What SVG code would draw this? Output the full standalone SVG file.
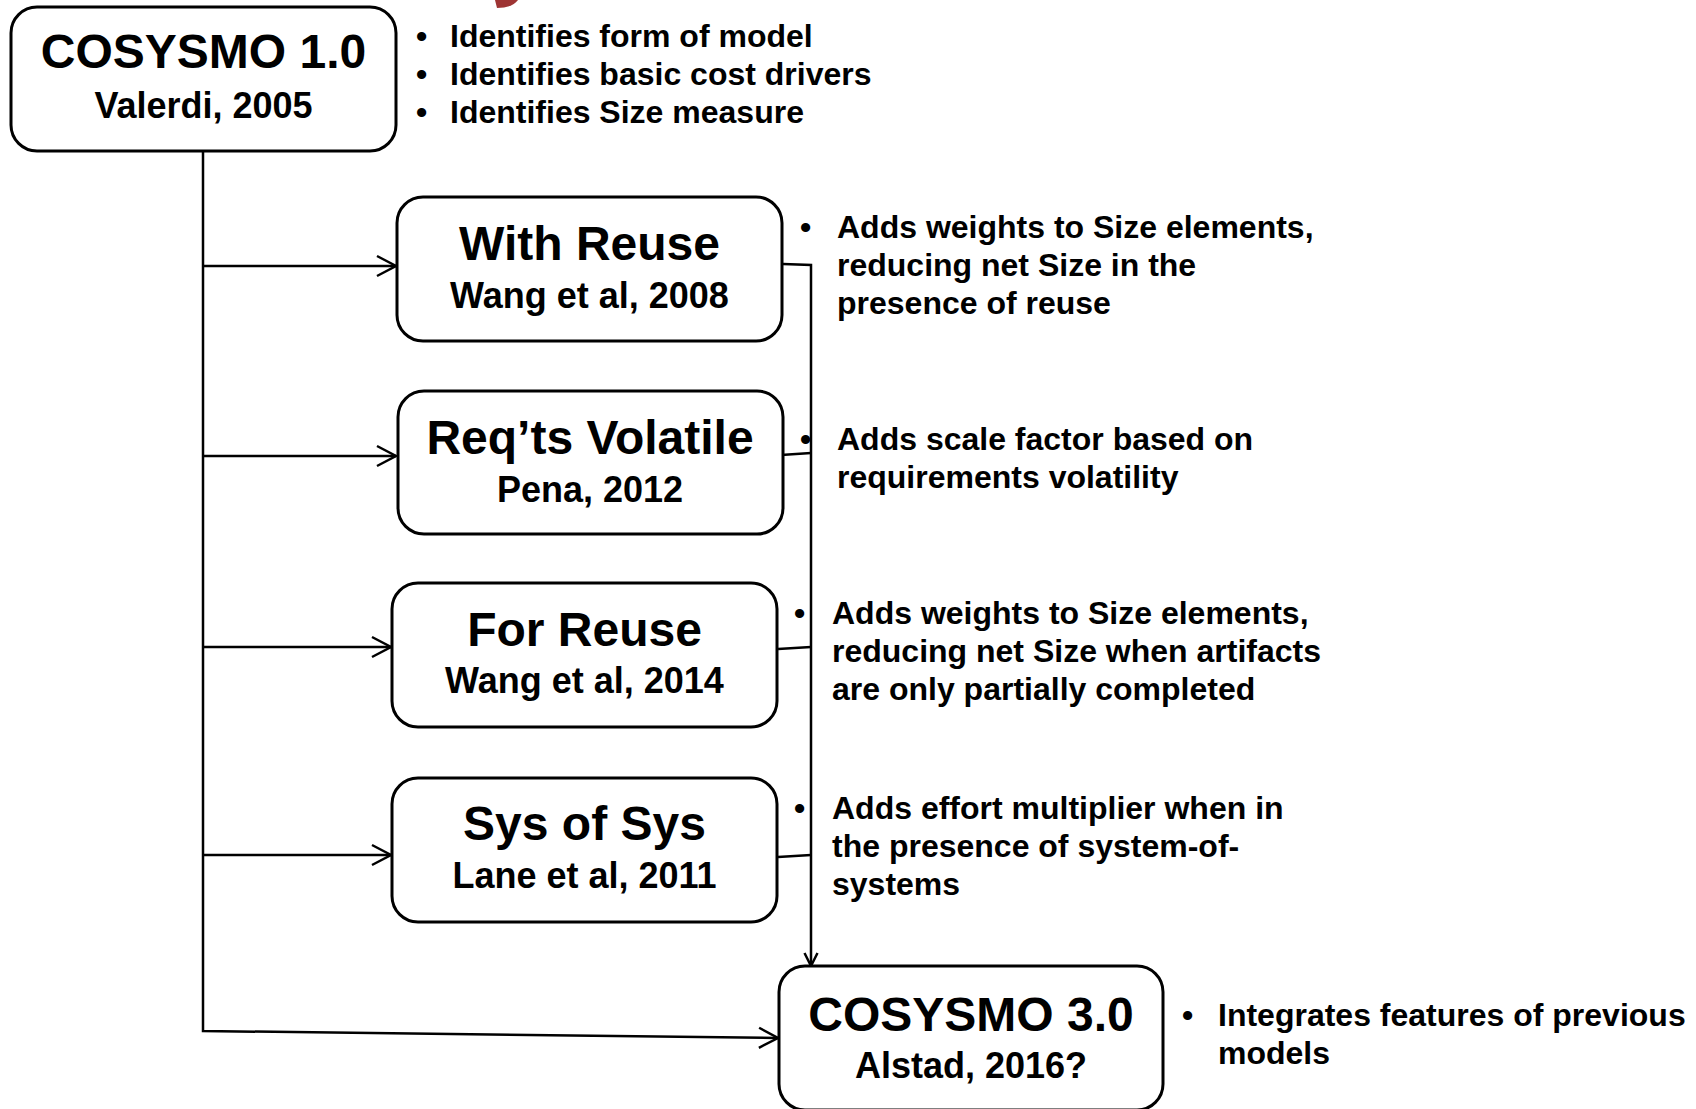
<svg xmlns="http://www.w3.org/2000/svg" width="1696" height="1109" viewBox="0 0 1696 1109">
<defs>
<style>
.box{fill:#fff;stroke:#000;stroke-width:3}
.t{font-family:"Liberation Sans",Arial,sans-serif;font-weight:bold;fill:#000}
.title{font-size:48px;text-anchor:middle}
.sub{font-size:36px;text-anchor:middle}
.b{font-size:32px}
.ln{fill:none;stroke:#000;stroke-width:2.5}
</style>
<marker id="ah" markerUnits="userSpaceOnUse" markerWidth="24" markerHeight="24" viewBox="0 0 24 24" refX="20" refY="12" orient="auto">
<path d="M1,2 L20,12 L1,22" fill="none" stroke="#000" stroke-width="2.5"/>
</marker>
<marker id="ahs" markerUnits="userSpaceOnUse" markerWidth="18" markerHeight="18" viewBox="0 0 18 18" refX="14" refY="9" orient="auto">
<path d="M1,2.5 L14,9 L1,15.5" fill="none" stroke="#000" stroke-width="2.5"/>
</marker>
</defs>
<rect width="1696" height="1109" fill="#fff"/>
<path d="M495,0 L518,0 Q512,8 497,8 Z" fill="#9E3433"/>

<g id="connectors">
<path class="ln" d="M203,151 L203,1031 L778,1038" marker-end="url(#ah)"/>
<path class="ln" d="M203,266 L396,266" marker-end="url(#ah)"/>
<path class="ln" d="M203,456 L396,456" marker-end="url(#ah)"/>
<path class="ln" d="M203,647 L391,647" marker-end="url(#ah)"/>
<path class="ln" d="M203,855 L391,855" marker-end="url(#ah)"/>
<path class="ln" d="M783,264 L811,265 L811,966" marker-end="url(#ahs)"/>
<path class="ln" d="M781,455 L811,453"/>
<path class="ln" d="M778,649 L811,647"/>
<path class="ln" d="M778,857 L811,855"/>
</g>

<g id="cosysmo1">
<rect class="box" x="11" y="7" width="385" height="144" rx="26"/>
<text class="t title" x="203.5" y="68">COSYSMO 1.0</text>
<text class="t sub" x="203.5" y="118">Valerdi, 2005</text>
<text class="t b" x="416" y="47">•</text><text class="t b" x="450" y="47">Identifies form of model</text>
<text class="t b" x="416" y="85">•</text><text class="t b" x="450" y="85">Identifies basic cost drivers</text>
<text class="t b" x="416" y="123">•</text><text class="t b" x="450" y="123">Identifies Size measure</text>
</g>

<g id="withreuse">
<rect class="box" x="397" y="197" width="385" height="144" rx="26"/>
<text class="t title" x="589.5" y="260">With Reuse</text>
<text class="t sub" x="589.5" y="308">Wang et al, 2008</text>
<text class="t b" x="800" y="238">•</text>
<text class="t b" x="837" y="238">Adds weights to Size elements,</text>
<text class="t b" x="837" y="276">reducing net Size in the</text>
<text class="t b" x="837" y="314">presence of reuse</text>
</g>

<g id="reqvolatile">
<rect class="box" x="398" y="391" width="385" height="143" rx="26"/>
<text class="t title" x="590" y="454">Req’ts Volatile</text>
<text class="t sub" x="590" y="502">Pena, 2012</text>
<text class="t b" x="800" y="450">•</text>
<text class="t b" x="837" y="450">Adds scale factor based on</text>
<text class="t b" x="837" y="488">requirements volatility</text>
</g>

<g id="forreuse">
<rect class="box" x="392" y="583" width="385" height="144" rx="26"/>
<text class="t title" x="584.5" y="646">For Reuse</text>
<text class="t sub" x="584.5" y="693">Wang et al, 2014</text>
<text class="t b" x="794" y="624">•</text>
<text class="t b" x="832" y="624">Adds weights to Size elements,</text>
<text class="t b" x="832" y="662">reducing net Size when artifacts</text>
<text class="t b" x="832" y="700">are only partially completed</text>
</g>

<g id="sysofsys">
<rect class="box" x="392" y="778" width="385" height="144" rx="26"/>
<text class="t title" x="584.5" y="840">Sys of Sys</text>
<text class="t sub" x="584.5" y="888">Lane et al, 2011</text>
<text class="t b" x="794" y="819">•</text>
<text class="t b" x="832" y="819">Adds effort multiplier when in</text>
<text class="t b" x="832" y="857">the presence of system-of-</text>
<text class="t b" x="832" y="895">systems</text>
</g>

<g id="cosysmo3">
<rect class="box" x="779" y="966" width="384" height="144" rx="26"/>
<text class="t title" x="971" y="1031">COSYSMO 3.0</text>
<text class="t sub" x="971" y="1078">Alstad, 2016?</text>
<text class="t b" x="1182" y="1026">•</text>
<text class="t b" x="1218" y="1026">Integrates features of previous</text>
<text class="t b" x="1218" y="1064">models</text>
</g>
</svg>
